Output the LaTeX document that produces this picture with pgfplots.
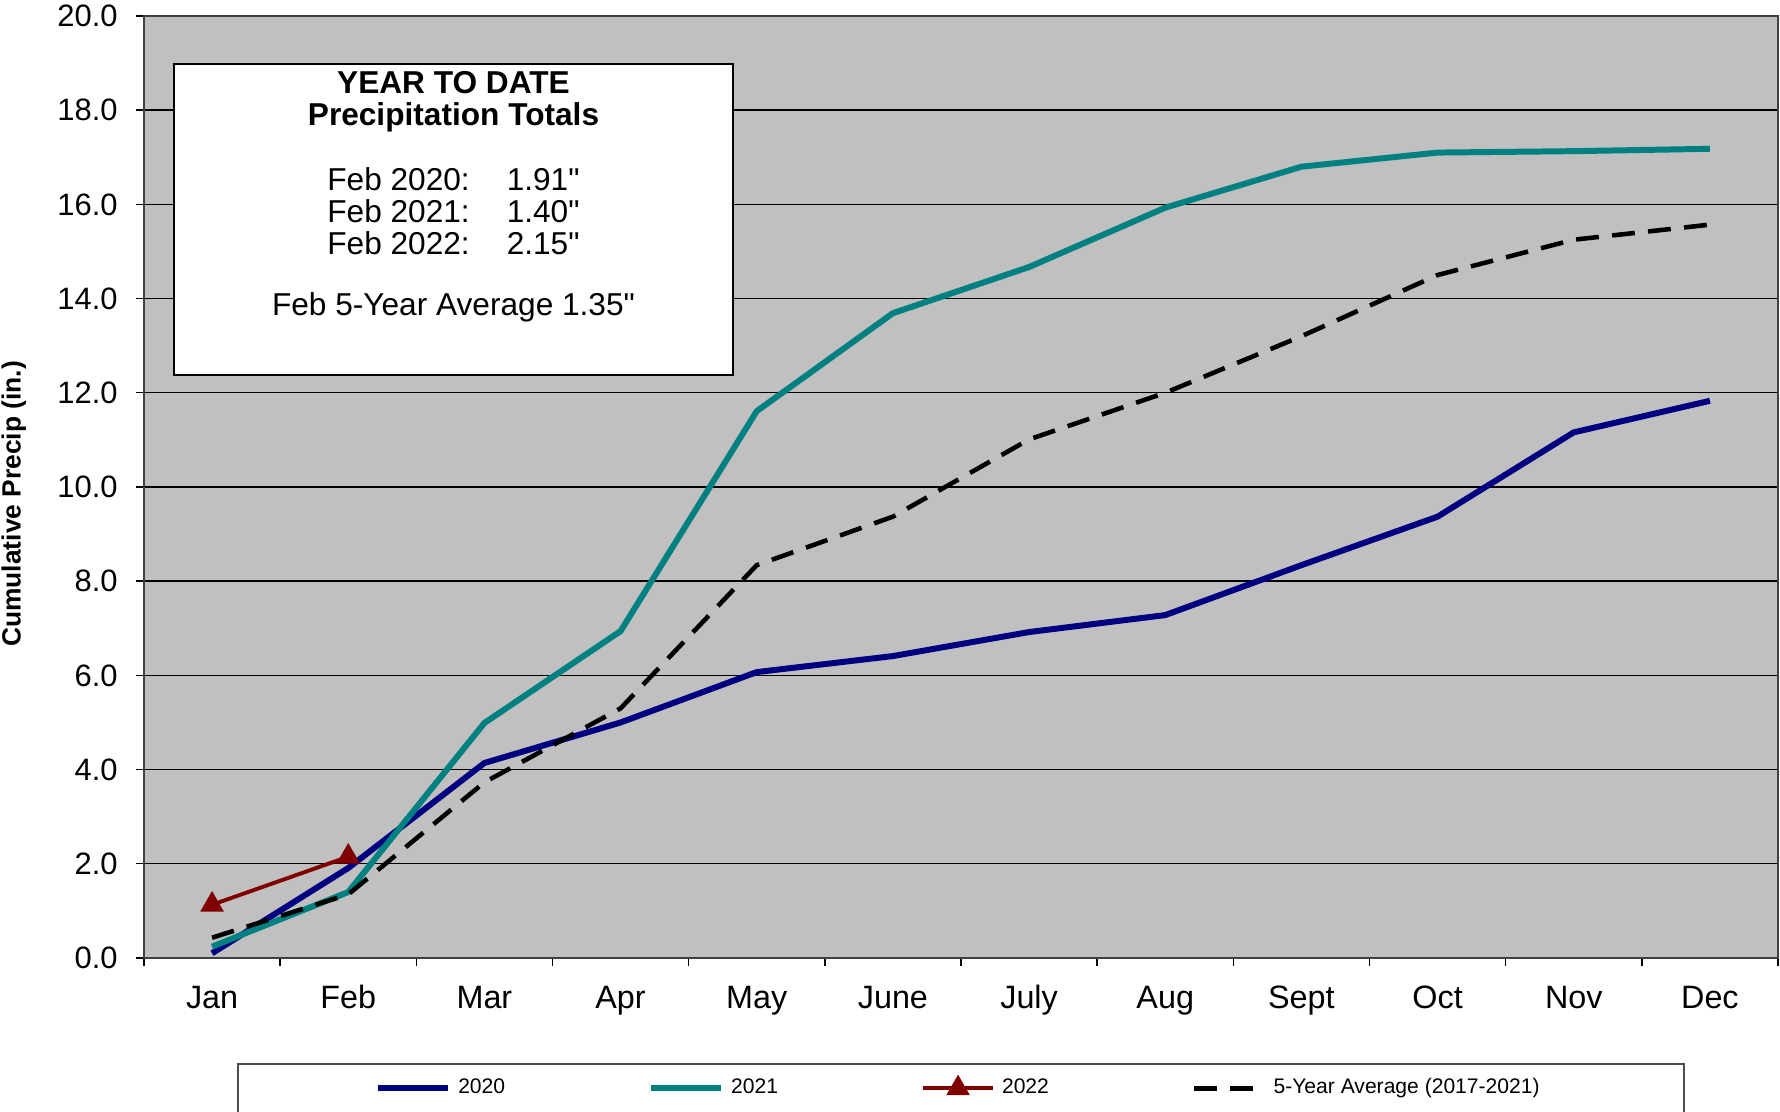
\documentclass[border=0pt]{standalone}
\usepackage{fontspec}
\setmainfont{Liberation Sans}[Ligatures=TeXOff]
\usepackage{pgfplots}
\pgfplotsset{compat=1.18}
\definecolor{c2020}{HTML}{000080}
\definecolor{c2021}{HTML}{008080}
\definecolor{c2022}{HTML}{800000}
\definecolor{plotbg}{HTML}{C0C0C0}
\begin{document}
\begin{tikzpicture}
\begin{axis}[
  scale only axis, width=163.4mm, height=94.2mm,
  at={(0,0)}, anchor=south west,
  xmin=-0.5, xmax=11.5, ymin=0, ymax=20,
  axis background/.style={fill=plotbg},
  xtick={0,...,11},
  xticklabels={Jan,Feb,Mar,Apr,May,June,July,Aug,Sept,Oct,Nov,Dec},
  minor xtick={-0.5,0.5,...,11.5},
  ytick={0,2,...,20},
  minor ytick={0,2,...,20},
  tick pos=left,
  tick align=outside, major tick length=0mm, minor tick length=0.8mm,
  ymajorgrids, major grid style={black, line width=0.4pt},
  tick style={black, line width=0.4pt},
  axis line style={black!75, line width=0.6pt},
  /pgf/number format/assume math mode=true,
  y tick label style={font=\fontsize{8.8}{10}\selectfont, xshift=-1.4mm, /pgf/number format/.cd, fixed, fixed zerofill, precision=1},
  x tick label style={font=\fontsize{9.2}{10}\selectfont, text height=6.6pt, text depth=2pt, yshift=-1.5mm},
  ylabel={Cumulative Precip (in.)},
  ylabel style={font=\bfseries\fontsize{7.5}{9}\selectfont, at={(axis description cs:-0.0796,0.482)}, anchor=center, rotate=0},
  legend style={at={(0.5,-0.1115)}, anchor=north, legend columns=4, draw=black!70, line width=0.6pt,
    font=\fontsize{6}{7}\selectfont, inner xsep=13.7mm, inner ysep=0.7mm,
    /tikz/every even column/.append style={column sep=13.6mm}},
  legend image code/.code={\draw[mark repeat=2,mark phase=2,#1] plot coordinates {(0cm,0cm) (0.35cm,0cm) (0.7cm,0cm)};},
]
\addplot[c2020, line width=1.7pt, line join=round] coordinates {
(0,0.10) (1,1.91) (2,4.14) (3,5.00) (4,6.07) (5,6.41) (6,6.92) (7,7.28) (8,8.34) (9,9.37) (10,11.16) (11,11.83)};
\addlegendentry{2020}
\addplot[c2021, line width=1.7pt, line join=round] coordinates {
(0,0.24) (1,1.40) (2,4.99) (3,6.94) (4,11.61) (5,13.69) (6,14.67) (7,15.93) (8,16.80) (9,17.10) (10,17.13) (11,17.18)};
\addlegendentry{2021}
\addplot[c2022, line width=1.1pt, mark=triangle*, mark size=2.8pt, mark options={solid}] coordinates {
(0,1.13) (1,2.15)};
\addlegendentry{2022}
\addplot[black, line width=1.3pt, dash pattern=on 6.5pt off 3.8pt, line join=round] coordinates {
(0,0.43) (1,1.35) (2,3.73) (3,5.30) (4,8.34) (5,9.37) (6,11.01) (7,12.00) (8,13.20) (9,14.50) (10,15.25) (11,15.57)};
\addlegendentry{5-Year Average (2017-2021)}
\draw[fill=white, draw=black, line width=0.6pt] (axis description cs:0.0184,0.619) rectangle (axis description cs:0.3605,0.949);
\node[font=\bfseries\fontsize{9}{10}\selectfont] at (axis description cs:0.1894,0.929) {YEAR TO DATE};
\node[font=\bfseries\fontsize{9}{10}\selectfont] at (axis description cs:0.1894,0.892) {Precipitation Totals};
\node[font=\fontsize{9}{10}\selectfont, inner sep=0pt] at (axis description cs:0.1894,0.822) {\begin{tabular}{@{}l@{\hspace{3.7mm}}l@{}}Feb 2020: & 1.91"\end{tabular}};
\node[font=\fontsize{9}{10}\selectfont, inner sep=0pt] at (axis description cs:0.1894,0.788) {\begin{tabular}{@{}l@{\hspace{3.7mm}}l@{}}Feb 2021: & 1.40"\end{tabular}};
\node[font=\fontsize{9}{10}\selectfont, inner sep=0pt] at (axis description cs:0.1894,0.754) {\begin{tabular}{@{}l@{\hspace{3.7mm}}l@{}}Feb 2022: & 2.15"\end{tabular}};
\node[font=\fontsize{9}{10}\selectfont] at (axis description cs:0.1894,0.691) {Feb 5-Year Average 1.35"};
\end{axis}
\pgfresetboundingbox
\path[use as bounding box] (-14.4mm,-15.4mm) rectangle (163.6mm,95.8mm);
\end{tikzpicture}
\end{document}
